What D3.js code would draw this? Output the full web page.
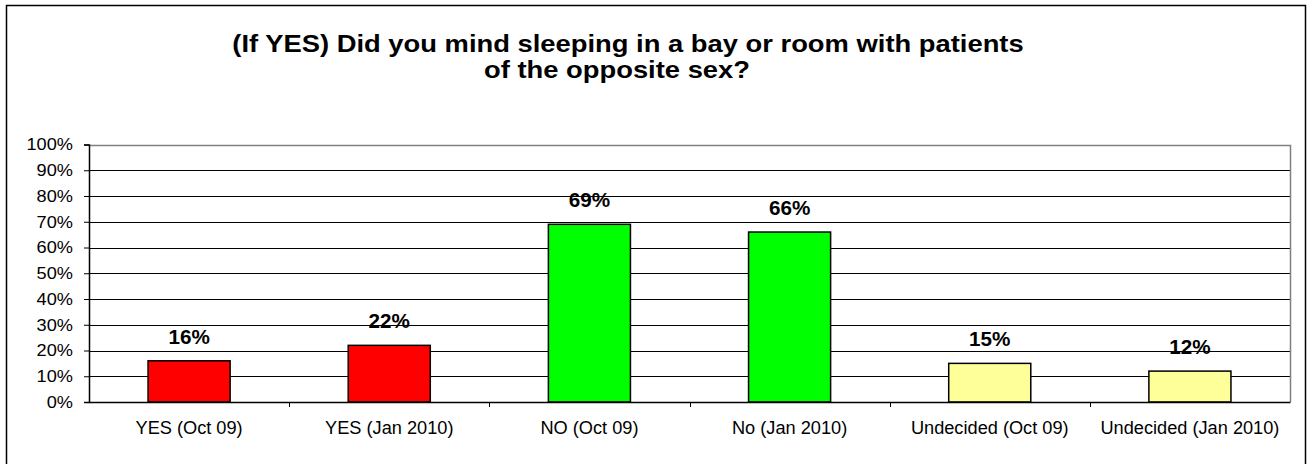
<!DOCTYPE html>
<html><head><meta charset="utf-8">
<script src="https://cdn.jsdelivr.net/npm/d3@7"></script>
<style>body{margin:0;background:#fff;}svg{display:block;font-family:Arial,"Liberation Sans",sans-serif;}</style>
</head><body>
<svg id="c" width="1311" height="464"></svg>
<script>
const categories = ["YES (Oct 09)", "YES (Jan 2010)", "NO (Oct 09)", "No (Jan 2010)", "Undecided (Oct 09)", "Undecided (Jan 2010)"];
const values = [16, 22, 69, 66, 15, 12];
const barColors = ["#FF0000", "#FF0000", "#00FF00", "#00FF00", "#FFFF99", "#FFFF99"];
const yTicks = [0, 10, 20, 30, 40, 50, 60, 70, 80, 90, 100];
const titleLines = ["(If YES) Did you mind sleeping in a bay or room with patients", "of the opposite sex?"];

const svg = d3.select("#c");
const L = 89, R = 1290, T = 144.5, B = 402;

svg.append("rect").attr("x", 6.5).attr("y", 5.5).attr("width", 1299).attr("height", 470)
  .attr("fill", "#fff").attr("stroke", "#000").attr("stroke-width", 1.5);

const x = d3.scaleBand().domain(categories).range([L, R]).paddingInner(0.59).paddingOuter(0.295);
const xb = d3.scaleBand().domain(categories).range([L, R]);
const y = d3.scaleLinear().domain([0, 100]).range([B, T]);

svg.append("g").selectAll("line").data(yTicks.filter(d => d > 0 && d < 100)).join("line")
  .attr("x1", L).attr("x2", R).attr("y1", d => Math.round(y(d)) + 0.5).attr("y2", d => Math.round(y(d)) + 0.5)
  .attr("stroke", "#000").attr("stroke-width", 1);
svg.append("path").attr("d", `M${L},${Math.round(T)+0.5}H${R+0.5}V${B}`).attr("fill", "none").attr("stroke", "#808080").attr("stroke-width", 1.5);

svg.append("g").selectAll("rect").data(values).join("rect")
  .attr("x", (d, i) => x(categories[i])).attr("width", x.bandwidth())
  .attr("y", d => y(d)).attr("height", d => B - y(d))
  .attr("fill", (d, i) => barColors[i]).attr("stroke", "#000").attr("stroke-width", 1.5);

svg.append("g").selectAll("text").data(values).join("text")
  .attr("transform", (d, i) => `translate(${x(categories[i]) + x.bandwidth() / 2},${y(d) - 17}) scale(1.06,1)`)
  .attr("text-anchor", "middle").attr("font-weight", "bold").attr("font-size", 19.5)
  .text(d => d + "%");

const ya = svg.append("g").attr("transform", `translate(${L},0)`)
  .call(d3.axisLeft(y).tickValues(yTicks).tickFormat(d => d + "%").tickSize(5).tickPadding(11));
ya.select(".domain").attr("stroke", "#000").attr("stroke-width", 1.5);
ya.selectAll(".tick line").attr("stroke", "#000");
ya.selectAll("text").attr("font-size", 17).attr("fill", "#000").attr("font-family", "Arial, 'Liberation Sans', sans-serif")
  .attr("transform", "translate(-16,0) scale(1.07,1) translate(16,0)");

const xa = svg.append("g").attr("transform", `translate(0,${B})`)
  .call(d3.axisBottom(xb).tickSize(0).tickPadding(20));
xa.select(".domain").attr("stroke", "#000").attr("stroke-width", 1.5);
xa.selectAll("text").attr("font-size", 17.5).attr("fill", "#000").attr("font-family", "Arial, 'Liberation Sans', sans-serif")
  .attr("transform", "scale(1.04,1)");
svg.append("g").selectAll("line").data(categories.slice(1)).join("line")
  .attr("x1", d => Math.round(xb(d)) + 0.5).attr("x2", d => Math.round(xb(d)) + 0.5)
  .attr("y1", B).attr("y2", B + 5).attr("stroke", "#000");

svg.append("text").attr("transform", "translate(628,52) scale(1.19,1)").attr("text-anchor", "middle")
  .attr("font-weight", "bold").attr("font-size", 23).text(titleLines[0]);
svg.append("text").attr("transform", "translate(617,78) scale(1.19,1)").attr("text-anchor", "middle")
  .attr("font-weight", "bold").attr("font-size", 23).text(titleLines[1]);
</script>
</body></html>
